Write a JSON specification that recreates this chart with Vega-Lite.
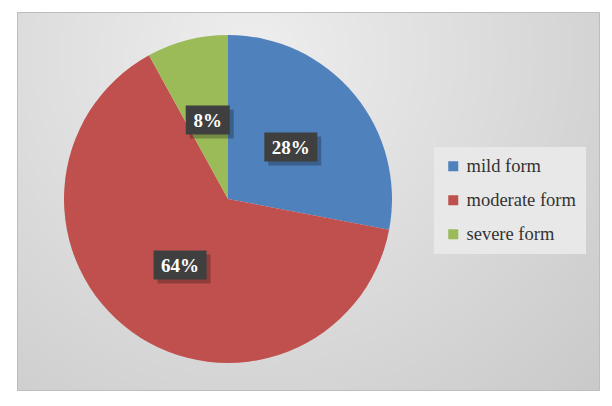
{
  "$schema": "https://vega.github.io/schema/vega-lite/v6.json",
  "width": 582,
  "height": 378,
  "autosize": "none",
  "padding": {"left": 17, "top": 12, "right": 13, "bottom": 16},
  "background": "white",
  "config": {
    "font": "Liberation Serif",
    "view": {
      "stroke": "#bdbdbd",
      "strokeWidth": 1,
      "fill": {
        "gradient": "radial",
        "x1": 0.4, "y1": 0.25, "r1": 0,
        "x2": 0.4, "y2": 0.25, "r2": 0.9,
        "stops": [
          {"offset": 0, "color": "#eeeeee"},
          {"offset": 1, "color": "#c6c6c6"}
        ]
      }
    }
  },
  "data": {
    "values": [
      {"category": "mild form", "value": 28, "order": 1, "label": "28%"},
      {"category": "moderate form", "value": 64, "order": 2, "label": "64%"},
      {"category": "severe form", "value": 8, "order": 3, "label": "8%"}
    ]
  },
  "transform": [
    {"joinaggregate": [{"op": "sum", "field": "value", "as": "total"}]},
    {"window": [{"op": "sum", "field": "value", "as": "cum"}], "sort": [{"field": "order"}], "frame": [null, 0]},
    {"calculate": "(datum.cum - datum.value/2)/datum.total*2*PI", "as": "mid"},
    {"calculate": "0.497*sin(datum.mid)", "as": "lx"},
    {"calculate": "0.497*cos(datum.mid)", "as": "ly"},
    {"calculate": "(length(datum.label)*9+26)/2/164", "as": "hw"},
    {"calculate": "datum.lx - datum.hw", "as": "bx1"},
    {"calculate": "datum.lx + datum.hw", "as": "bx2"},
    {"calculate": "datum.ly - 14.5/164", "as": "by1"},
    {"calculate": "datum.ly + 14.5/164", "as": "by2"},
    {"calculate": "datum.bx1 + 4/164", "as": "sx1"},
    {"calculate": "datum.bx2 + 4/164", "as": "sx2"},
    {"calculate": "datum.by1 - 4/164", "as": "sy1"},
    {"calculate": "datum.by2 - 4/164", "as": "sy2"}
  ],
  "layer": [
    {
      "mark": {
        "type": "arc",
        "x": {"expr": "scale('x', 0)"},
        "y": {"expr": "scale('y', 0)"},
        "outerRadius": {"expr": "scale('x', 1) - scale('x', 0)"},
        "stroke": null
      },
      "encoding": {
        "theta": {"field": "value", "type": "quantitative", "stack": true},
        "order": {"field": "order", "type": "quantitative"},
        "color": {
          "field": "category",
          "type": "nominal",
          "sort": ["mild form", "moderate form", "severe form"],
          "scale": {
            "domain": ["mild form", "moderate form", "severe form"],
            "range": ["#4F81BD", "#C0504D", "#9BBB59"]
          },
          "legend": {
            "title": null,
            "orient": "none",
            "legendX": 417,
            "legendY": 135,
            "fillColor": "#e8e8e8",
            "padding": 10,
            "symbolType": "square",
            "symbolSize": 100,
            "symbolStrokeWidth": 0,
            "labelFont": "Liberation Serif",
            "labelFontSize": 18.5,
            "labelColor": "#333333",
            "labelOffset": 4,
            "rowPadding": 15,
            "labelLimit": 200
          }
        }
      }
    },
    {
      "mark": {"type": "rect", "color": "#000000", "opacity": 0.25},
      "encoding": {
        "x": {"field": "sx1", "type": "quantitative", "scale": {"domain": [-1.28659, 2.2622], "nice": false, "zero": false}, "axis": null},
        "x2": {"field": "sx2"},
        "y": {"field": "sy1", "type": "quantitative", "scale": {"domain": [-1.16463, 1.14024], "nice": false, "zero": false}, "axis": null},
        "y2": {"field": "sy2"}
      }
    },
    {
      "mark": {"type": "rect", "color": "#3f3f3f", "opacity": 1},
      "encoding": {
        "x": {"field": "bx1", "type": "quantitative"},
        "x2": {"field": "bx2"},
        "y": {"field": "by1", "type": "quantitative"},
        "y2": {"field": "by2"}
      }
    },
    {
      "mark": {
        "type": "text",
        "font": "Liberation Serif",
        "fontWeight": "bold",
        "fontSize": 19,
        "color": "white",
        "baseline": "middle",
        "align": "center",
        "dy": 1
      },
      "encoding": {
        "x": {"field": "lx", "type": "quantitative"},
        "y": {"field": "ly", "type": "quantitative"},
        "text": {"field": "label", "type": "nominal"}
      }
    }
  ]
}
